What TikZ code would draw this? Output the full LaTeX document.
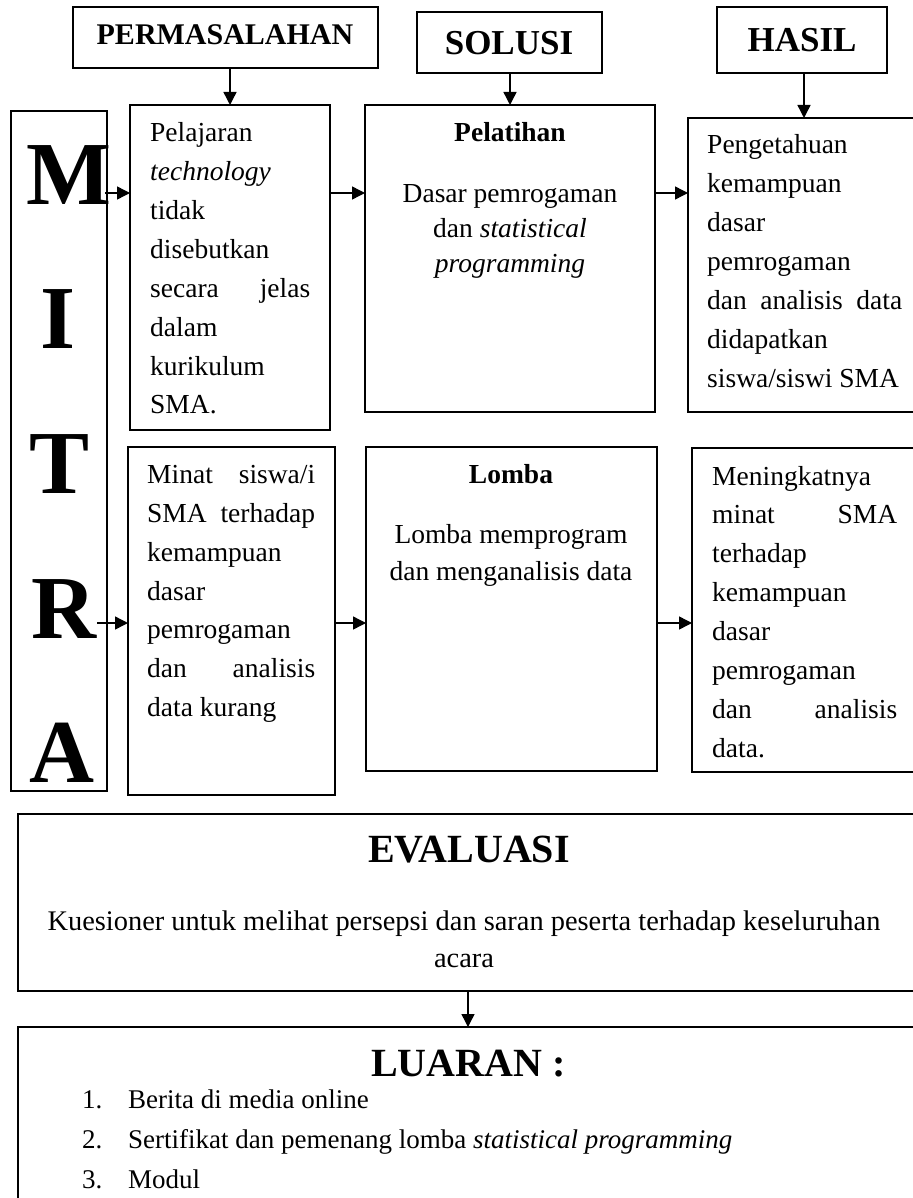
\documentclass[tikz,border=0pt]{standalone}
\usepackage{fontspec}
\setmainfont{Liberation Serif}
\usetikzlibrary{arrows.meta}
\begin{document}
\begin{tikzpicture}[x=1pt,y=-1pt,
  box/.style={draw,line width=1.5pt,rectangle,anchor=north west,inner sep=0pt,outer sep=0pt},
  arr/.style={line width=1.4pt,-{Triangle[length=13pt,width=13pt]}},
  body/.style={inner sep=0pt,font=\fontsize{27.5}{38.9}\selectfont,align=flush left,anchor=base west},
  ctext/.style={inner sep=0pt,align=flush center,anchor=base},
  head/.style={inner sep=0pt,anchor=base,font=\bfseries\fontsize{27.5}{30}\selectfont},
  letter/.style={inner sep=0pt,anchor=base,font=\bfseries\fontsize{90}{90}\selectfont}]
\useasboundingbox (0,0) rectangle (912,1198);
% title boxes
\node[box,minimum width=305pt,minimum height=61pt] (perm) at (73,7) {};
\node[box,minimum width=185pt,minimum height=61pt] (sol) at (417,12) {};
\node[box,minimum width=170pt,minimum height=66pt] (has) at (717,7) {};
\node[head,font=\bfseries\fontsize{30}{32}\selectfont] (permt) at (225,45) {PERMASALAHAN};
\node[head,font=\bfseries\fontsize{35}{37}\selectfont] (solt) at (509,55) {SOLUSI};
\node[head,font=\bfseries\fontsize{35}{37}\selectfont] (hast) at (802,52) {HASIL};
% MITRA
\node[box,minimum width=96pt,minimum height=680pt] (mitra) at (11,111) {};
\node[letter] (lm) at (69,205) {M};
\node[letter] (li) at (58,348) {I};
\node[letter] (lt) at (60,493) {T};
\node[letter] (lr) at (63.5,638) {R};
\node[letter] (la) at (62,782) {A};
% row 1
\node[box,minimum width=200pt,minimum height=325pt] (p1) at (130,105) {};
\node[box,minimum width=290pt,minimum height=307pt] (s1) at (365,105) {};
\node[box,minimum width=232pt,minimum height=294pt] (h1) at (688,118) {};
\node[body,text width=160pt] (p1t) at (150,141.7) {Pelajaran\\\textit{technology}\\tidak\\disebutkan\\secara\hfill jelas\\dalam\\kurikulum\\SMA.};
\node[head] (s1h) at (510,142) {Pelatihan};
\node[ctext,text width=270pt,font=\fontsize{27.5}{35}\selectfont] (s1t) at (510,203) {Dasar pemrogaman\\dan \textit{statistical}\\\textit{programming}};
\node[body,text width=195pt] (h1t) at (707,154) {Pengetahuan\\kemampuan\\dasar\\pemrogaman\\dan\hfill analisis\hfill data\\didapatkan\\siswa/siswi SMA};
% row 2
\node[box,minimum width=207pt,minimum height=348pt] (p2) at (128,447) {};
\node[box,minimum width=291pt,minimum height=324pt] (s2) at (366,447) {};
\node[box,minimum width=228pt,minimum height=324pt] (h2) at (692,448) {};
\node[body,text width=168pt] (p2t) at (147,483.3) {Minat\hfill siswa/i\\SMA\hfill terhadap\\kemampuan\\dasar\\pemrogaman\\dan\hfill analisis\\data kurang};
\node[head] (s2h) at (511,483) {Lomba};
\node[ctext,text width=270pt,font=\fontsize{27.5}{37}\selectfont] (s2t) at (511,543) {Lomba memprogram\\dan menganalisis data};
\node[body,text width=185pt] (h2t) at (712,485) {Meningkatnya\\minat\hfill SMA\\terhadap\\kemampuan\\dasar\\pemrogaman\\dan\hfill analisis\\data.};
% evaluasi and luaran
\node[box,minimum width=900pt,minimum height=177pt] (eval) at (18,814) {};
\node[head,font=\bfseries\fontsize{40}{42}\selectfont] (evalh) at (469,862) {EVALUASI};
\node[ctext,text width=890pt,font=\fontsize{28.4}{37}\selectfont] (evalt) at (464,930) {Kuesioner untuk melihat persepsi dan saran peserta terhadap keseluruhan\\acara};
\node[box,minimum width=900pt,minimum height=200pt] (luaran) at (18,1027) {};
\node[head,font=\bfseries\fontsize{40}{42}\selectfont] (luaranh) at (468.5,1076) {LUARAN :};
\node[body,text width=800pt,font=\fontsize{27}{40}\selectfont] (items) at (82,1108) {\makebox[46pt][l]{1.}Berita di media online\\\makebox[46pt][l]{2.}Sertifikat dan pemenang lomba \textit{statistical programming}\\\makebox[46pt][l]{3.}Modul};
% connectors
\draw[arr] (perm.south -| p1.north) -- (p1.north);
\draw[arr] (sol.south -| s1.north) -- (s1.north);
\draw[arr] (has.south -| h1.north) -- (h1.north);
\coordinate (mout) at (105,193);
\draw[arr] (mout) -- (mout -| p1.west);
\draw[arr] (p1.east |- mout) -- (s1.west |- mout);
\draw[arr] (s1.east |- mout) -- (h1.west |- mout);
\coordinate (rout) at (97,623);
\draw[arr] (rout) -- (rout -| p2.west);
\draw[arr] (p2.east |- rout) -- (s2.west |- rout);
\draw[arr] (s2.east |- rout) -- (h2.west |- rout);
\draw[arr] (eval.south) -- (luaran.north);
\end{tikzpicture}
\end{document}
